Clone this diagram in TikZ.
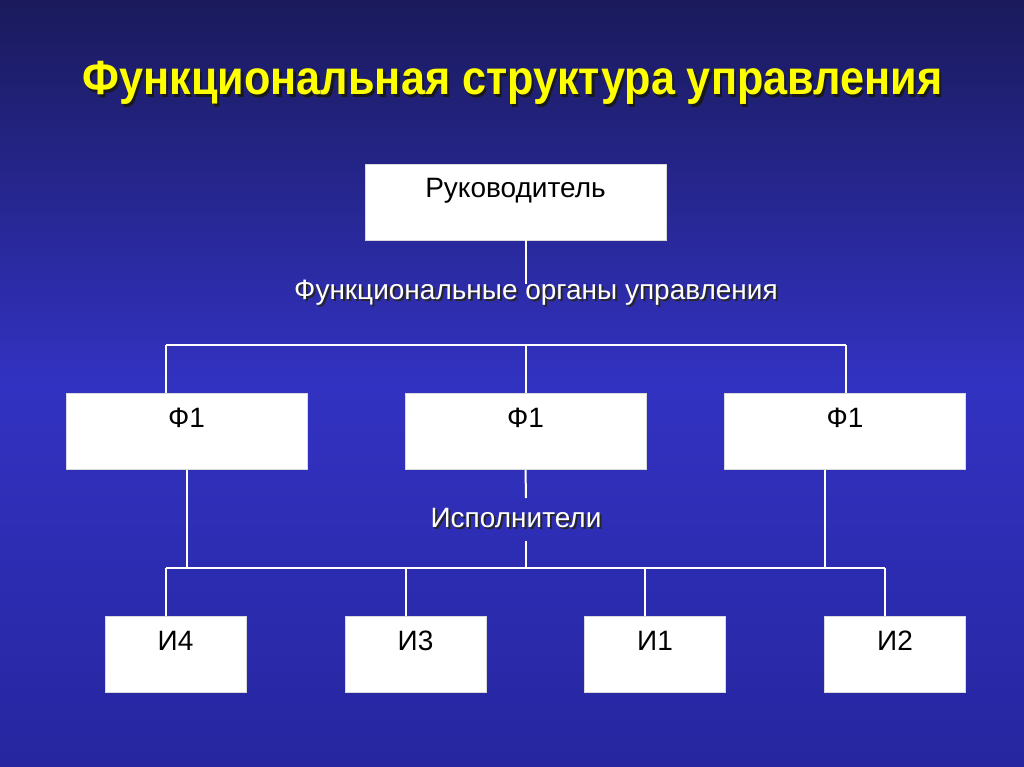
\documentclass[tikz,border=0pt]{standalone}
\usepackage{graphicx}
\usepackage{fontspec}
\setmainfont{Liberation Sans}
\definecolor{bgtop}{HTML}{1A1A5C}
\definecolor{bgmid}{HTML}{3232C2}
\definecolor{bgbot}{HTML}{2626A0}
\definecolor{titley}{HTML}{FFFF00}
\newcommand{\shadowed}[4]{\makebox[0pt][l]{\hspace{#1}\raisebox{-#1}{\textcolor{#2}{#4}}}\textcolor{#3}{#4}}
\begin{document}
\begin{tikzpicture}[x=1pt,y=-1pt,
  box/.style={draw=gray!30, fill=white, line width=0.6pt, inner sep=0pt,
    text height=34pt, text depth=42pt, minimum height=76pt,
    font=\fontsize{28}{28}\selectfont, text=black},
  wire/.style={draw=white, line width=2pt},
  lbl/.style={font=\fontsize{28}{28}\selectfont, inner sep=0pt, anchor=base},
  ttl/.style={font=\fontsize{48}{48}\selectfont\bfseries, inner sep=0pt, anchor=base}]
\useasboundingbox (0,0) rectangle (1024,767);
\shade[top color=bgtop, bottom color=bgbot, middle color=bgmid] (0,0) rectangle (1024,767);
% title
\node[ttl] (ttl) at (512.5,95) {\scalebox{0.9}[1]{\shadowed{2.5pt}{black!90}{titley}{Функциональная структура управления}}};
% boxes
\node[box, minimum width=301pt] (ruk) at (515.5,202) {Руководитель};
\node[box, minimum width=241pt] (fa) at (186.5,431.5) {Ф1};
\node[box, minimum width=241pt] (fb) at (525.5,431.5) {Ф1};
\node[box, minimum width=241pt] (fc) at (845,431.5) {Ф1};
\node[box, minimum width=141pt] (i4) at (175.5,654) {И4};
\node[box, minimum width=141pt] (i3) at (415.5,654) {И3};
\node[box, minimum width=141pt] (i1) at (655,654) {И1};
\node[box, minimum width=141pt] (i2) at (895,654) {И2};
% coordinates
\coordinate (t1) at (526,284);
\coordinate (b1L) at (166,345);
\coordinate (b1R) at (846,345);
\coordinate (b2L) at (166,568);
\coordinate (b2R) at (885,568);
\coordinate (c3) at (406,568);
\coordinate (c1) at (645,568);
\coordinate (cr) at (825,568);
\coordinate (g1) at (526,498);
\coordinate (g2) at (526,541);
% wires
\draw[wire] (ruk.south -| t1) -- (t1);
\draw[wire] (b1L) -- (b1R);
\draw[wire] (b1L) -- (b1L |- fa.north);
\draw[wire] (fb.north) -- (fb.north |- b1L);
\draw[wire] (b1R) -- (b1R |- fc.north);
\draw[wire] (b2L) -- (b2R);
\draw[wire] (fa.south) -- (fa.south |- b2L);
\draw[wire] (cr |- fc.south) -- (cr);
\draw[wire] (b2L) -- (b2L |- i4.north);
\draw[wire] (c3) -- (c3 |- i3.north);
\draw[wire] (c1) -- (c1 |- i1.north);
\draw[wire] (b2R) -- (b2R |- i2.north);
\draw[wire] (fb.south) -- (g1);
\draw[wire] (g2) -- (g2 |- b2L);
% labels
\node[lbl] (fo) at (536,299) {\shadowed{2pt}{black!85}{white}{Функциональные органы управления}};
\node[lbl] (isp) at (516,527) {\shadowed{2pt}{black!85}{white}{Исполнители}};
\end{tikzpicture}
\end{document}
